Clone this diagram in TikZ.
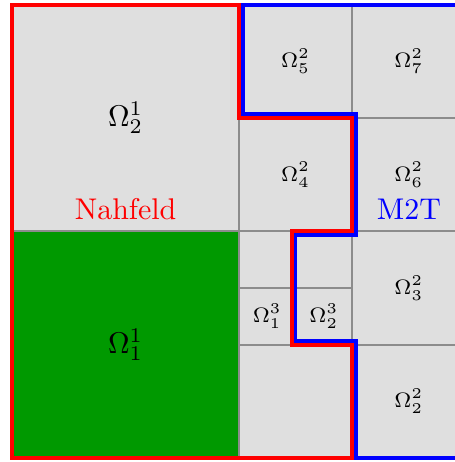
\documentclass[tikz,border=0pt]{standalone}
\begin{document}
\begin{tikzpicture}[x=1.33cm,y=1.33cm,
  gridline/.style={draw=black!45, line width=0.6pt},
  nahline/.style={draw=red, line width=1.3pt},
  mtline/.style={draw=blue, line width=1.3pt},
  biglabel/.style={inner sep=0pt},
  smalllabel/.style={inner sep=0pt, font=\scriptsize}]
\def\dd{0.035}
\useasboundingbox (-0.1085,-0.036) rectangle (3.906,4.0415);
\clip (-0.1085,-0.036) rectangle (3.906,4.0415);
% cells
\fill[gray!25] (0,0) rectangle (4,4);
\fill[green!60!black] (0,0) rectangle (2,2);
% grid
\draw[gridline] (0,0) rectangle (4,4);
\draw[gridline] (2,0) -- (2,4);
\draw[gridline] (3,0) -- (3,4);
\draw[gridline] (0,2) -- (4,2);
\draw[gridline] (2,3) -- (4,3);
\draw[gridline] (2,1) -- (4,1);
\draw[gridline] (2,1.5) -- (3,1.5);
\draw[gridline] (2.5,1) -- (2.5,2);
% labels
\node[biglabel] (o21) at (1,3) {$\Omega_2^1$};
\node[biglabel] (o11) at (1,1) {$\Omega_1^1$};
\node[smalllabel] (o25) at (2.5,3.5) {$\Omega_5^2$};
\node[smalllabel] (o27) at (3.5,3.5) {$\Omega_7^2$};
\node[smalllabel] (o24) at (2.5,2.5) {$\Omega_4^2$};
\node[smalllabel] (o26) at (3.5,2.5) {$\Omega_6^2$};
\node[smalllabel] (o23) at (3.5,1.5) {$\Omega_3^2$};
\node[smalllabel] (o22) at (3.5,0.5) {$\Omega_2^2$};
\node[smalllabel] (o31) at (2.25,1.25) {$\Omega_1^3$};
\node[smalllabel] (o32) at (2.75,1.25) {$\Omega_2^3$};
\node[inner sep=0pt, anchor=base, text=red] (nah) at (1,2.1) {Nahfeld};
\node[inner sep=0pt, anchor=base, text=blue] (m2t) at (3.5,2.1) {M2T};
% boundaries
\draw[nahline] (0,0) -- (0,4) -- (2,4) -- (2,3) -- (3,3) -- (3,2) -- (2.5-\dd,2) -- (2.5-\dd,1) -- (3,1) -- (3,0) -- cycle;
\draw[mtline] (4.2,4) -- (2+\dd,4) -- (2+\dd,3+\dd) -- (3+\dd,3+\dd) -- (3+\dd,2-\dd) -- (2.5,2-\dd) -- (2.5,1+\dd) -- (3+\dd,1+\dd) -- (3+\dd,0) -- (4.2,0);
\end{tikzpicture}
\end{document}
